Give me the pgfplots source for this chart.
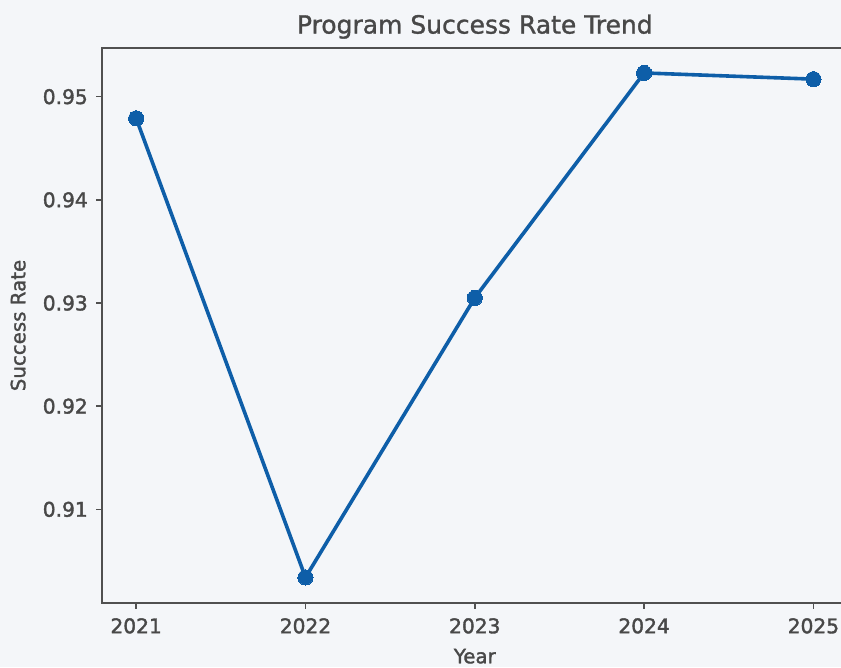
\documentclass[border=0pt]{standalone}
\usepackage{pgfplots}
\pgfplotsset{compat=1.18}
\usepackage{fontspec}
\setmainfont{DejaVu Sans}

\definecolor{bgcol}{RGB}{244,246,249}
\definecolor{txtcol}{RGB}{72,72,72}
\definecolor{spinecol}{RGB}{80,80,80}
\definecolor{linecol}{RGB}{14,94,168}

\begin{document}
\begin{tikzpicture}[x=1pt,y=1pt]
  \fill[bgcol] (0,0) rectangle (841,667);
  \clip (0,0) rectangle (841,667);
  \begin{axis}[
    at={(102.3pt,64.3pt)}, anchor=south west,
    scale only axis, width=745pt, height=554.4pt,
    xmin=2020.8, xmax=2025.2,
    ymin=0.90095, ymax=0.95469,
    xtick={2021,2022,2023,2024,2025},
    ytick={0.91,0.92,0.93,0.94,0.95},
    xticklabel style={/pgf/number format/1000 sep={}},
    yticklabel style={/pgf/number format/fixed, /pgf/number format/precision=2,
      /pgf/number format/fixed zerofill},
    /pgf/number format/assume math mode=true,
    tick pos=left,
    tick align=outside, major tick length=6pt,
    tick style={spinecol, line width=1.4pt},
    axis line style={spinecol, line width=1.9pt},
    every tick label/.append style={font=\fontsize{20.2}{24}\selectfont\addfontfeature{FakeBold=1.8}, text=txtcol},
    xticklabel style={yshift=-6pt},
    yticklabel style={xshift=-5pt},
    title={Program Success Rate Trend},
    title style={at={(axis description cs:0.5,1.0282)}, anchor=center,
      font=\fontsize{25}{29}\selectfont\addfontfeature{FakeBold=1.2}, text=txtcol},
    xlabel={Year},
    xlabel style={at={(axis description cs:0.5,-0.0965)}, anchor=center,
      font=\fontsize{19.8}{23}\selectfont\addfontfeature{FakeBold=1.6}, text=txtcol},
    ylabel={Success Rate},
    ylabel style={at={(axis description cs:-0.113,0.5)}, anchor=center, rotate=0,
      font=\fontsize{19.8}{23}\selectfont\addfontfeature{FakeBold=1.4}, text=txtcol},
    clip=false,
  ]
    \addplot[linecol, line width=3.6pt, mark=*, mark size=7.6pt,
      mark options={fill=linecol, draw=linecol, line width=0pt}]
      coordinates {
        (2021, 0.9479)
        (2022, 0.9034)
        (2023, 0.9305)
        (2024, 0.9523)
        (2025, 0.9517)
      };
  \end{axis}
\end{tikzpicture}
\end{document}
